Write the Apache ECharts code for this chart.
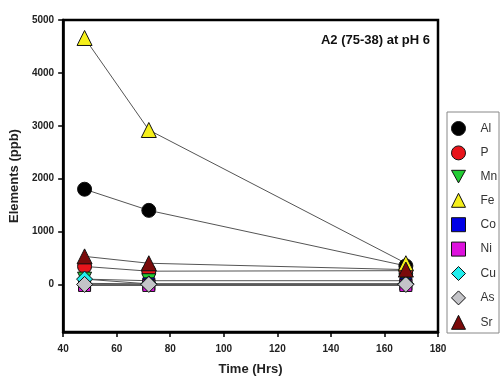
<!DOCTYPE html>
<html><head><meta charset="utf-8">
<script src="https://cdn.jsdelivr.net/npm/echarts@6/dist/echarts.min.js"></script>
<style>html,body{margin:0;padding:0;background:#fff}#c{width:501px;height:383px}</style>
</head><body><div id="c"></div>
<script>
const time = [48, 72, 168];
const Al = [1800, 1400, 350];
const P = [340, 250, 260];
const Mn = [100, 70, 70];
const Fe = [4660, 2920, 400];
const Co = [20, 10, 10];
const Ni = [-20, -20, -20];
const Cu = [100, 10, 10];
const As = [0, 0, 0];
const Sr = [530, 400, 280];
const yTicks = [0, 1000, 2000, 3000, 4000, 5000];
const xTicks = [40, 60, 80, 100, 120, 140, 160, 180];

const downTri = 'path://M0,0 L20,0 L10,18 Z';
const defs = [
  {name:'Al', data:Al, symbol:'circle', color:'#000000', size:14},
  {name:'P', data:P, symbol:'circle', color:'#e8141b', size:14},
  {name:'Mn', data:Mn, symbol:downTri, color:'#22cc33', size:14},
  {name:'Fe', data:Fe, symbol:'triangle', color:'#f5ef1a', size:15},
  {name:'Co', data:Co, symbol:'rect', color:'#0000e6', size:12},
  {name:'Ni', data:Ni, symbol:'rect', color:'#dd11dd', size:12},
  {name:'Cu', data:Cu, symbol:'diamond', color:'#22eeee', size:16},
  {name:'As', data:As, symbol:'diamond', color:'#c4c4c8', size:16},
  {name:'Sr', data:Sr, symbol:'triangle', color:'#7a0a0a', size:15}
];

const chart = echarts.init(document.getElementById('c'), null, {renderer:'canvas'});
const font = 'Liberation Sans, Arial, sans-serif';
chart.setOption({
  animation:false,
  backgroundColor:'#ffffff',
  grid:{left:60, right:63, top:20, bottom:51, show:true, borderColor:'#000', borderWidth:2.5, backgroundColor:'transparent'},
  title:{text:'A2 (75-38) at pH 6', right:66, top:29, textStyle:{fontFamily:font, fontWeight:'bold', fontSize:13, color:'#111'}},
  xAxis:{type:'value', min:40, max:180, interval:20,
    name:'Time (Hrs)', nameLocation:'middle', nameGap:31,
    nameTextStyle:{fontFamily:font, fontWeight:'bold', fontSize:13, color:'#222'},
    axisLine:{show:true, onZero:false, lineStyle:{color:'#000', width:2.5}},
    axisTick:{show:true, inside:false, length:5, lineStyle:{color:'#000', width:1.5}, customValues:xTicks},
    axisLabel:{fontFamily:font, fontWeight:'bold', fontSize:10, color:'#222', margin:12, customValues:xTicks, formatter:v=>String(v)},
    splitLine:{show:false}},
  yAxis:{type:'value', min:-900, max:5000,
    name:'Elements (ppb)', nameLocation:'middle', nameGap:35,
    nameTextStyle:{fontFamily:font, fontWeight:'bold', fontSize:13, color:'#222'},
    axisLine:{show:true, onZero:false, lineStyle:{color:'#000', width:2.5}},
    axisTick:{show:true, inside:false, length:5, lineStyle:{color:'#000', width:1.5}, customValues:yTicks},
    axisLabel:{fontFamily:font, fontWeight:'bold', fontSize:10, color:'#222', margin:9, customValues:yTicks, formatter:v=>String(v)},
    splitLine:{show:false}},
  legend:{orient:'vertical', left:447, top:112, padding:[9,4,6,4], itemGap:9.4,
    itemWidth:14, itemHeight:14,
    textStyle:{fontFamily:font, fontSize:12, color:'#333', padding:[0,0,0,10]},
    data:defs.map(d=>({name:d.name, icon:d.symbol, itemStyle:{color:d.color, borderColor:'#111', borderWidth:1}}))},
  graphic:[{type:'rect', shape:{x:447, y:112, width:52, height:221}, style:{fill:'none', stroke:'#888', lineWidth:1}, z:-1}],
  series:defs.map(d=>({
    name:d.name, type:'line',
    data:time.map((t,i)=>[t, d.data[i]]),
    symbol:d.symbol, symbolSize:d.size,
    showAllSymbol:true,
    lineStyle:{color:'#555', width:1},
    itemStyle:{color:d.color, borderColor:'#111', borderWidth:1},
    emphasis:{disabled:true}
  }))
});
</script></body></html>
